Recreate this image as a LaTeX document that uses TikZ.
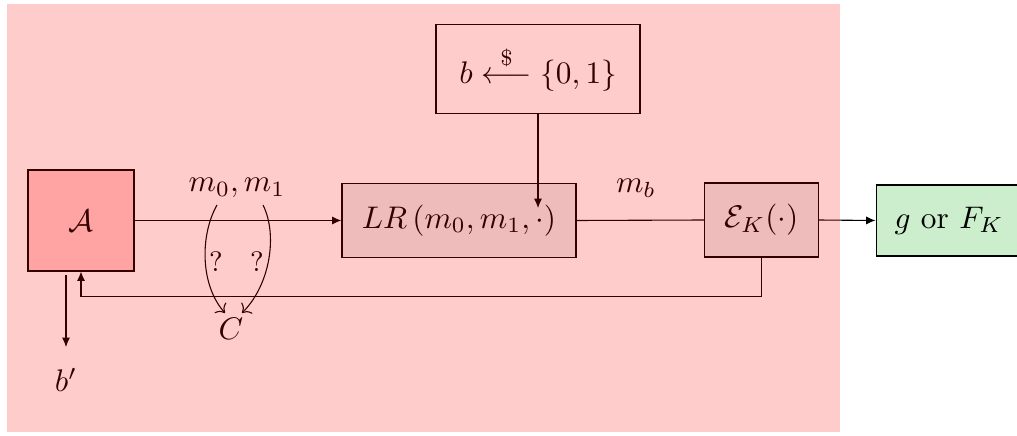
\documentclass[tikz,border=0pt]{standalone}
\usepackage{amsmath}
\usetikzlibrary{arrows.meta}
\definecolor{boxgray}{gray}{0.92}
\definecolor{gbox}{RGB}{204,238,204}
\begin{document}
\begin{tikzpicture}[x=0.32pt,y=-0.32pt, line width=0.35pt,
  blk/.style={draw, inner sep=0pt, anchor=center},
  arr/.style={-{Latex[length=3pt,width=2.6pt]}},
  qlab/.style={font=\small}]
\useasboundingbox (0,0) rectangle (1017,436);
% boxes
\node[blk, fill=red!20, minimum width=33.9pt, minimum height=32.3pt] (A) at (81,220.5) {$\mathcal{A}$};
\node[blk, fill=boxgray, minimum width=74.9pt, minimum height=23.4pt] (LR) at (459,220.5) {$LR\left(m_0, m_1, \cdot\right)$};
\node[blk, minimum width=65.3pt, minimum height=28.2pt] (B) at (538,69) {$b \overset{\$}{\longleftarrow} \{0,1\}$};
\node[blk, fill=boxgray, minimum width=36.2pt, minimum height=23.7pt] (E) at (761.5,220) {$\mathcal{E}_K(\cdot)$};
\node[blk, fill=gbox, minimum width=46.7pt, minimum height=22.7pt] (G) at (949,220.5) {$g$ or $F_K$};
% labels
\node (m01) at (237,188) {$m_0, m_1$};
\node (mb) at (636,188) {$m_b$};
\node (C) at (231,329) {$C$};
\node (bp) at (66,380) {$b'$};
\node[qlab] (q0) at (216,262) {?};
\node[qlab] (q1) at (257,262) {?};
\coordinate (dot) at (538,208);
\coordinate (s0) at (217,205);
\coordinate (s1) at (263,205);
\coordinate (e0) at (225,313);
\coordinate (e1) at (242,313);
\coordinate (bpa) at (66,347);
% connectors
\draw[arr] (A.east) -- (LR.west);
\draw[arr] (B.south) -- (dot);
\draw (LR.east) -- (E.west);
\draw[arr] (E.east) -- (G.west);
\draw[arr] (E.south) -- ++(0,39) -| (A.south);
\draw[arr] ([yshift=-1]A.south -| bpa) -- (bpa);
\draw[->] (s0) .. controls (200,235) and (200,285) .. (e0);
\draw[->] (s1) .. controls (278,235) and (270,285) .. (e1);
% overlay
\fill[red, opacity=0.2] (7,4) rectangle (840,432);
\end{tikzpicture}
\end{document}
